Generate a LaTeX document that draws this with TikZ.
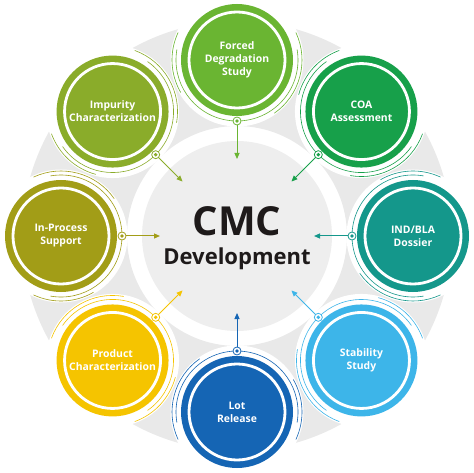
\documentclass[tikz,border=0pt]{standalone}
\usepackage{fontspec}
\setmainfont{Open Sans}
\usetikzlibrary{arrows.meta,calc}
\definecolor{cFor}{HTML}{6AB532}
\definecolor{cCoa}{HTML}{17A04A}
\definecolor{cInd}{HTML}{14978B}
\definecolor{cSta}{HTML}{3DB5E9}
\definecolor{cLot}{HTML}{1565B4}
\definecolor{cPro}{HTML}{F5C400}
\definecolor{cInp}{HTML}{A29D17}
\definecolor{cImp}{HTML}{8AAC2A}
\definecolor{ringgray}{HTML}{E9E9E9}
\definecolor{centergray}{HTML}{EEEEEE}
\definecolor{txtdark}{HTML}{1E1A1A}
\tikzset{
  labeltext/.style={text=white, align=center, font=\bfseries\fontsize{10.4}{13}\selectfont, inner sep=0pt},
  markerdot/.style={circle, draw=#1, fill=white, line width=0.8pt, minimum size=8pt, inner sep=0pt},
  thinarc/.style={draw=#1, line width=0.6pt},
  pointer/.style={draw=#1, line width=1pt, -{Triangle[length=6pt,width=5pt]}},
}
\begin{document}
\begin{tikzpicture}[x=1pt,y=1pt]
\useasboundingbox (0,0) rectangle (474,472);
\coordinate (C) at (237,236);
\fill[ringgray, even odd rule] (C) circle (215) (C) circle (110);
\fill[centergray] (C) circle (95);
\node[text=txtdark, font=\bfseries\fontsize{40}{40}\selectfont, inner sep=0pt] (cmc) at (237,251) {CMC};
\node[text=txtdark, font=\bfseries\fontsize{22}{22}\selectfont, inner sep=0pt] (dev) at (237,213) {Development};
% white halos
\foreach \ang in {90,45,0,-45,-90,-135,180,135}
  \fill[white] ($(C)+(\ang:176)$) circle (66.5);
% satellite circles
\foreach \ang/\col/\txt/\nm in {
  90/cFor/{Forced\\Degradation\\Study}/for,
  45/cCoa/{COA\\Assessment}/coa,
  0/cInd/{IND/BLA\\Dossier}/ind,
  -45/cSta/{Stability\\Study}/sta,
  -90/cLot/{Lot\\Release}/lot,
  -135/cPro/{Product\\Characterization}/pro,
  180/cInp/{In-Process\\Support}/inp,
  135/cImp/{Impurity\\Characterization}/imp}{
  \coordinate (p\nm) at ($(C)+(\ang:176)$);
  \fill[\col] (p\nm) circle (56);
  \draw[white, line width=2.8pt] (p\nm) circle (48);
  \node[labeltext] (t\nm) at (p\nm) {\txt};
  \pgfmathsetmacro{\inw}{\ang+180}
  \draw[thinarc=\col] ($(p\nm)+(\inw-100:61)$) arc[start angle=\inw-100, end angle=\inw+100, radius=61];
  \draw[thinarc=\col] ($(p\nm)+(\inw+35:65)$) arc[start angle=\inw+35, end angle=\inw+115, radius=65];
  \draw[thinarc=\col] ($(p\nm)+(\inw-115:65)$) arc[start angle=\inw-115, end angle=\inw-60, radius=65];
  \node[markerdot=\col] (m\nm) at ($(p\nm)+(\inw:61)$) {};
  \fill[\col] (m\nm.center) circle (1.9);
  \coordinate (tip\nm) at ($(C)+(\ang:77)$);
  \draw[pointer=\col] (m\nm) -- (tip\nm);
}
\end{tikzpicture}
\end{document}
